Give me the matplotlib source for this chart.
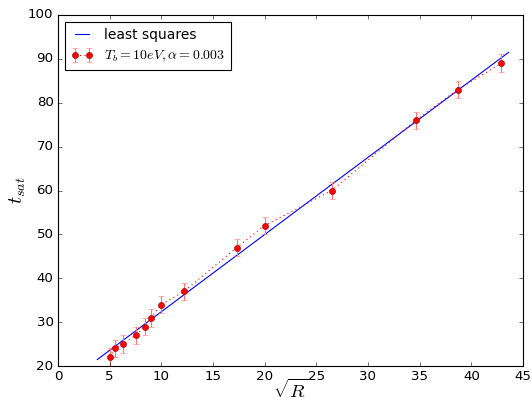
import numpy as np
import matplotlib
matplotlib.use('Agg')
from matplotlib import pyplot as plt

plt.style.use('classic')

# data
sqrt_r = [5.0, 5.5, 6.3, 7.5, 8.4, 9.0, 10.0, 12.2, 17.3, 20.0, 26.5, 34.6, 38.7, 42.9]
t_sat = [22, 24, 25, 27, 29, 31, 34, 37, 47, 52, 60, 76, 83, 89]
t_err = [2, 2, 2, 2, 2, 2, 2, 2, 2, 2, 2, 2, 2, 2]
fit_range = [3.8, 43.6]

coef = np.polyfit(sqrt_r, t_sat, 1)
xfit = np.linspace(fit_range[0], fit_range[1], 50)
yfit = np.polyval(coef, xfit)

fig = plt.figure(figsize=(532/80, 402/80), dpi=80, facecolor='white')
ax = fig.add_axes([58/532, 1 - 366/402, 465/532, 351/402])

ax.plot(xfit, yfit, 'b-', label='least squares')
ax.errorbar(sqrt_r, t_sat, yerr=t_err, fmt='o', color='red', ls=':',
            ecolor=(1, 0.45, 0.45), markersize=5.5, markeredgecolor='darkred',
            capsize=3, label=r'$T_b=10eV,\alpha=0.003$')

ax.set_xlim(0, 45)
ax.set_ylim(20, 100)
ax.set_xlabel(r'$\sqrt{R}$', fontsize=17, labelpad=-4)
ax.set_ylabel(r'$t_{sat}$', fontsize=18, labelpad=0)
ax.tick_params(labelsize=12)
ax.legend(loc='upper left', fontsize=12.5, numpoints=2, handlelength=1.6)

fig.savefig('out.png', dpi=80, facecolor='white')
